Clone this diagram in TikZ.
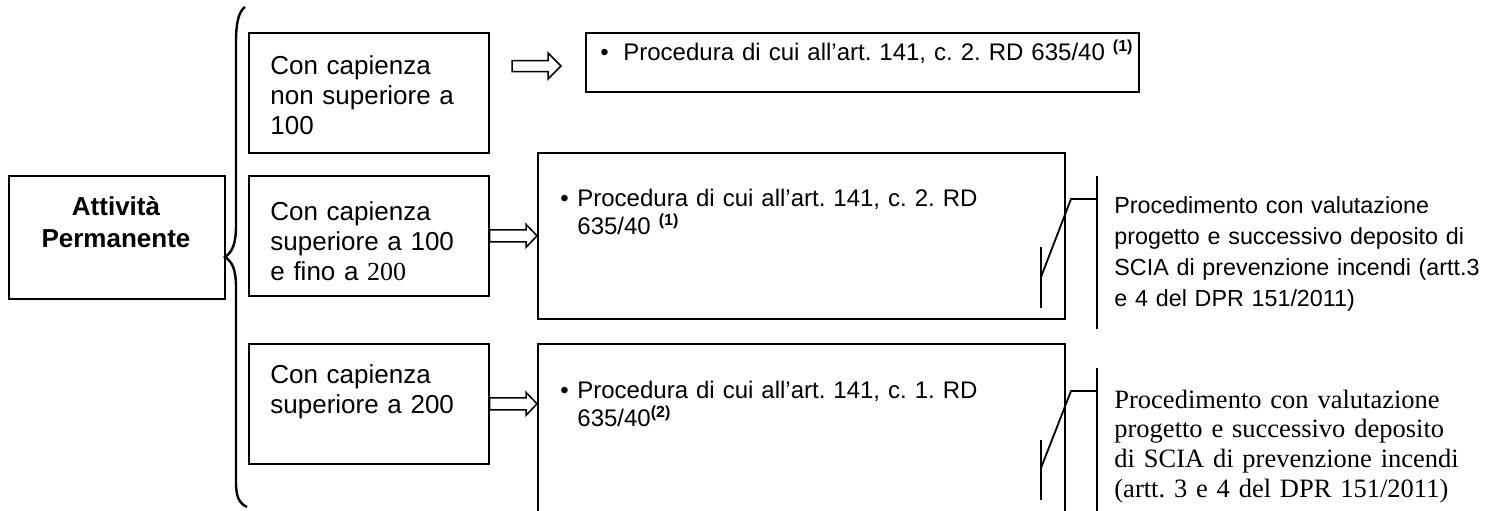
\documentclass[tikz,border=0pt]{standalone}
\usepackage{fontspec}
\setmainfont{Liberation Sans}
\newfontfamily\tnr{Liberation Serif}
\usetikzlibrary{calc}
\frenchspacing
\newcommand\hollowarrow[5]{%
  \draw[arrowline] let \p1=(#1), \p2=(#2) in
   (\x1,\y1+#3) -- (\x2-#5,\y1+#3) -- (\x2-#5,\y1+#4) -- (\x2,\y1)
   -- (\x2-#5,\y1-#4) -- (\x2-#5,\y1-#3) -- (\x1,\y1-#3) -- cycle;}
\begin{document}
\frenchspacing
\begin{tikzpicture}[x=0.5pt,y=-0.5pt,
  box/.style={draw, line width=0.8pt, inner sep=0pt, anchor=north west},
  arrowline/.style={line width=0.75pt, line join=miter},
  callout/.style={line width=0.9pt},
  bracepath/.style={line width=1.2pt},
  maintext/.style={inner sep=0pt, anchor=base west, align=left, text width=118pt,
    font=\fontsize{13}{15}\selectfont},
  proctext/.style={inner sep=0pt, anchor=base west, align=left, text width=250pt,
    font=\fontsize{12}{14}\selectfont},
  sanscall/.style={inner sep=0pt, anchor=base west, align=left, text width=200pt,
    font=\fontsize{11.65}{15.5}\selectfont},
  serifcall/.style={inner sep=0pt, anchor=base west, align=left, text width=200pt,
    font=\tnr\fontsize{13.25}{14.85}\selectfont}]
\useasboundingbox (0,0) rectangle (1503,510);
\clip (0,0) rectangle (1503,510);

% left box
\node[box, minimum width=108pt, minimum height=61.5pt] (L) at (8,175) {};
\node[inner sep=0pt, anchor=base, align=center, text width=104pt,
  font=\bfseries\fontsize{13}{16}\selectfont] (Lt) at (116,215) {Attività\\Permanente};

% brace
\draw[bracepath] (245,7) .. controls (238,12) and (236,25) .. (236,42)
  -- (236,225) .. controls (236,245) and (232,252) .. (225,257)
  .. controls (232,262) and (236,268) .. (236,288)
  -- (236,482) .. controls (236,497) and (239,503) .. (247,507);

% category boxes
\node[box, minimum width=120pt, minimum height=60pt] (b1) at (248,32) {};
\node[box, minimum width=120pt, minimum height=60pt] (b2) at (248,175) {};
\node[box, minimum width=120pt, minimum height=60pt] (b3) at (248,343) {};
\node[maintext] (b1t) at (270,74) {Con capienza\\non superiore a\\100};
\node[maintext] (b2t) at (270,220) {Con capienza\\superiore a 100\\e fino a {\tnr 200}};
\node[maintext] (b3t) at (270,383) {Con capienza\\superiore a 200};

% procedure boxes
\node[box, minimum width=276.5pt, minimum height=29.5pt] (p1) at (585,32) {};
\node[box, minimum width=263.5pt, minimum height=83pt] (p2) at (537,152) {};
\node[box, minimum width=263.5pt, minimum height=98.5pt] (p3) at (537,343) {};
\node[proctext, text width=270pt] (p1t) at (623,60)
  {\llap{•\hspace{7.3pt}}Procedura di cui all’art. 141, c. 2. RD 635/40 \textsuperscript{\bfseries(1)}};
\node[proctext] (p2t) at (577,206)
  {\llap{•\hspace{4.3pt}}Procedura di cui all’art. 141, c. 2. RD\\635/40 \textsuperscript{\bfseries(1)}};
\node[proctext] (p3t) at (577,398)
  {\llap{•\hspace{4.3pt}}Procedura di cui all’art. 141, c. 1. RD\\635/40\textsuperscript{\bfseries(2)}};

% hollow arrows
\coordinate (a1s) at (512,66);
\coordinate (a1e) at (561,66);
\hollowarrow{a1s}{a1e}{2.75pt}{6.5pt}{6.5pt}
\hollowarrow{b2.east}{b2.east -| p2.west}{3pt}{5.75pt}{5.5pt}
\hollowarrow{b3.east}{b3.east -| p3.west}{3pt}{5.75pt}{5.5pt}

% callout for row 2
\coordinate (c2a) at (1041,247);
\coordinate (c2b) at (1041,308);
\coordinate (c2s) at (1041,277);
\coordinate (c2k) at (1071,199);
\coordinate (c2h) at (1097,199);
\coordinate (c2t) at (1097,176);
\coordinate (c2u) at (1097,329);
\draw[callout] (c2a) -- (c2b);
\draw[callout] (c2s) -- (c2k) -- (c2h);
\draw[callout] (c2t) -- (c2u);
\node[sanscall] (c2txt) at (1114,213)
  {Procedimento con valutazione\\progetto e successivo deposito di\\SCIA di prevenzione incendi (artt.3\\e 4 del DPR 151/2011)};

% callout for row 3
\coordinate (c3a) at (1041,440);
\coordinate (c3b) at (1041,500);
\coordinate (c3s) at (1041,468);
\coordinate (c3k) at (1071,391);
\coordinate (c3h) at (1097,391);
\coordinate (c3t) at (1097,368);
\coordinate (c3u) at (1097,530);
\draw[callout] (c3a) -- (c3b);
\draw[callout] (c3s) -- (c3k) -- (c3h);
\draw[callout] (c3t) -- (c3u);
\node[serifcall] (c3txt) at (1114,408)
  {Procedimento con valutazione\\progetto e successivo deposito\\di SCIA di prevenzione incendi\\(artt. 3 e 4 del DPR 151/2011)};
\end{tikzpicture}
\end{document}
